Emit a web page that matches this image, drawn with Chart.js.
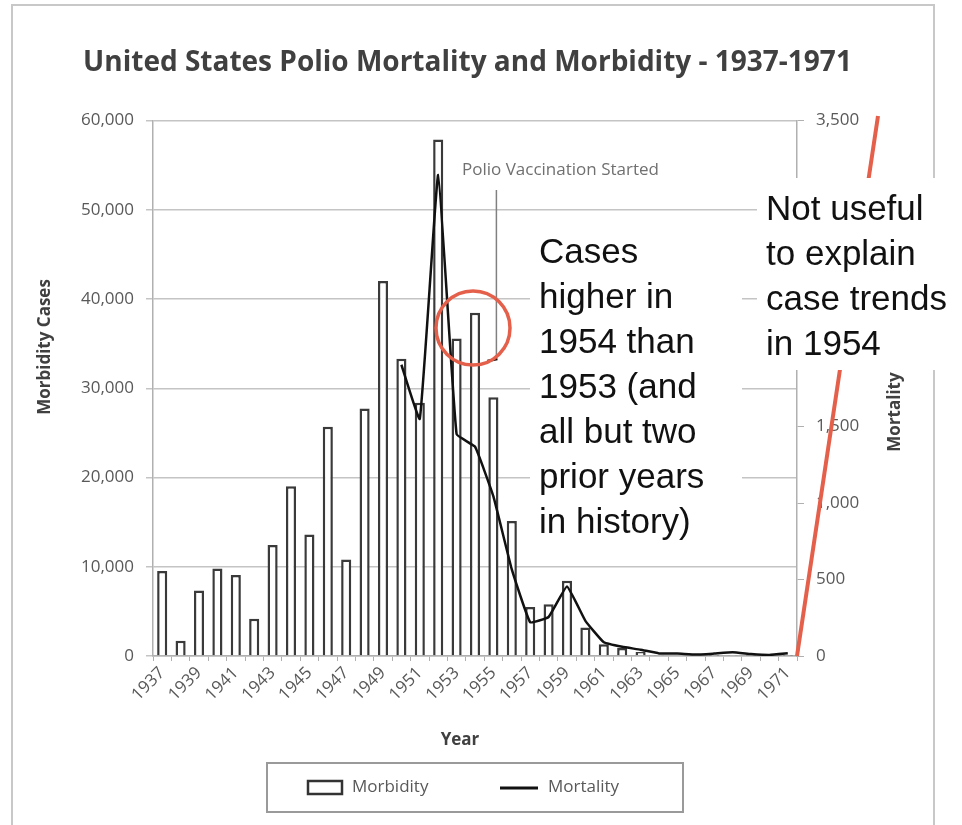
<!DOCTYPE html>
<html lang="en">
<head>
    <meta charset="UTF-8">
    <title>United States Polio Mortality and Morbidity</title>
    <script src="https://cdn.jsdelivr.net/npm/chart.js"></script>
    <style>
        html, body { margin: 0; padding: 0; background: #fff; }
        canvas { display: block; }
    </style>
</head>
<body>
<canvas id="polioChart" width="962" height="825"></canvas>
<script>
    // données
    const years = ["1937","1938","1939","1940","1941","1942","1943","1944","1945","1946",
                   "1947","1948","1949","1950","1951","1952","1953","1954","1955","1956",
                   "1957","1958","1959","1960","1961","1962","1963","1964","1965","1966",
                   "1967","1968","1969","1970","1971"];
    const morbidity = [9514, 1705, 7343, 9804, 9086, 4167, 12450, 19029, 13624, 25698,
                       10827, 27726, 42033, 33300, 28386, 57879, 35592, 38476, 28985, 15140,
                       5485, 5787, 8425, 3190, 1312, 910, 449, 122, 72, 113,
                       41, 53, 20, 33, 21];
    const mortality = [null, null, null, null, null, null, null, null, null, null,
                       null, null, null, 1904, 1551, 3145, 1450, 1368, 1043, 566,
                       221, 255, 454, 230, 90, 60, 41, 17, 16, 9,
                       16, 24, 13, 7, 18];
    const leftTicks = { min: 0, max: 60000, step: 10000 };
    const rightTicks = { min: 0, max: 3500, step: 500 };

    const noteCases = ["Cases", "higher in", "1954 than", "1953 (and", "all but two", "prior years", "in history)"];
    const noteMortality = ["Not useful", "to explain", "case trends", "in 1954"];

    const gray = '#595959';
    const red = '#e4604b';
    const excelFont = "'Open Sans', sans-serif";
    const noteFont = "'Liberation Sans', Arial, sans-serif";

    const fmt = v => Number(v).toLocaleString('en-US');

    // ✅ dessins en plus : cadre, titres d'axes, notes, légende
    const extras = {
        id: 'extras',
        afterDraw(chart) {
            const ctx = chart.ctx;
            const area = chart.chartArea;
            ctx.save();

            // cadre du graphique Excel
            ctx.strokeStyle = '#c8c8c8';
            ctx.lineWidth = 2;
            ctx.strokeRect(12, 5, 922, 830);

            // titres d'axes
            ctx.fillStyle = '#404040';
            ctx.font = "bold 17px " + excelFont;
            ctx.textAlign = 'center';
            ctx.textBaseline = 'middle';
            ctx.save();
            ctx.translate(45, 347);
            ctx.rotate(-Math.PI / 2);
            ctx.fillText("Morbidity Cases", 0, 0);
            ctx.restore();
            ctx.save();
            ctx.translate(895, 412);
            ctx.rotate(-Math.PI / 2);
            ctx.fillText("Mortality", 0, 0);
            ctx.restore();
            ctx.fillText("Year", 460, 740);

            // vaccination
            const xVac = chart.scales.x.getPixelForValue(years.indexOf("1955")) + 3;
            ctx.fillStyle = '#707070';
            ctx.font = "17px " + excelFont;
            ctx.textAlign = 'left';
            ctx.fillText("Polio Vaccination Started", 462, 170);
            ctx.strokeStyle = '#808080';
            ctx.lineWidth = 1.5;
            ctx.beginPath();
            ctx.moveTo(xVac, 190);
            ctx.lineTo(xVac, 360);
            ctx.stroke();
            ctx.strokeStyle = '#111';
            ctx.lineWidth = 2.5;
            ctx.beginPath();
            ctx.moveTo(xVac - 9, 361);
            ctx.lineTo(xVac + 1, 359);
            ctx.stroke();

            // trait rouge sur l'axe de droite
            ctx.strokeStyle = red;
            ctx.lineWidth = 4;
            ctx.beginPath();
            ctx.moveTo(area.right, area.bottom);
            ctx.lineTo(878, 116);
            ctx.stroke();

            // cercle rouge
            ctx.lineWidth = 3.5;
            ctx.beginPath();
            ctx.arc(473, 328, 37, 0, Math.PI * 2);
            ctx.stroke();

            // boîtes de texte
            ctx.fillStyle = '#fff';
            ctx.fillRect(530, 222, 212, 328);
            ctx.fillRect(757, 178, 205, 192);
            ctx.fillStyle = '#111';
            ctx.font = "35px " + noteFont;
            ctx.textBaseline = 'alphabetic';
            noteCases.forEach((t, i) => ctx.fillText(t, 539, 263 + i * 45));
            noteMortality.forEach((t, i) => ctx.fillText(t, 766, 220 + i * 45));

            // légende
            ctx.strokeStyle = '#9a9a9a';
            ctx.lineWidth = 2;
            ctx.strokeRect(267, 763, 416, 49);
            ctx.fillStyle = '#fff';
            ctx.strokeStyle = '#333';
            ctx.lineWidth = 2.5;
            ctx.fillRect(308, 781, 34, 13);
            ctx.strokeRect(308, 781, 34, 13);
            ctx.strokeStyle = '#111';
            ctx.lineWidth = 3;
            ctx.beginPath();
            ctx.moveTo(500, 788);
            ctx.lineTo(538, 788);
            ctx.stroke();
            ctx.fillStyle = gray;
            ctx.font = "17px " + excelFont;
            ctx.textBaseline = 'middle';
            ctx.fillText("Morbidity", 352, 787);
            ctx.fillText("Mortality", 548, 787);

            ctx.restore();
        }
    };

    const chart = new Chart(document.getElementById("polioChart"), {
        data: {
            labels: years,
            datasets: [
                {
                    type: 'line',
                    label: 'Mortality',
                    data: mortality,
                    yAxisID: 'y2',
                    borderColor: '#111',
                    borderWidth: 2.5,
                    pointRadius: 0,
                    tension: 0.1,
                    spanGaps: false,
                    order: 1
                },
                {
                    type: 'bar',
                    label: 'Morbidity',
                    data: morbidity,
                    yAxisID: 'y',
                    backgroundColor: '#ffffff',
                    borderColor: '#3a3a3a',
                    borderWidth: 2.5,
                    barPercentage: 0.55,
                    categoryPercentage: 1,
                    order: 2
                }
            ]
        },
        options: {
            responsive: false,
            animation: false,
            layout: { padding: { left: 30, right: 57, top: 38, bottom: 69 } },
            plugins: {
                legend: { display: false },
                tooltip: { enabled: false },
                title: {
                    display: true,
                    text: 'United States Polio Mortality and Morbidity - 1937-1971',
                    color: '#404040',
                    font: { family: excelFont, size: 28, weight: 'bold' },
                    padding: { top: 8, bottom: 41 }
                }
            },
            scales: {
                x: {
                    offset: true,
                    grid: { display: true, drawOnChartArea: false, offset: true, tickLength: 5, color: '#b0b0b0' },
                    border: { color: '#b0b0b0', width: 1.5 },
                    ticks: {
                        autoSkip: false,
                        minRotation: 45,
                        maxRotation: 45,
                        padding: 2,
                        color: gray,
                        font: { family: excelFont, size: 17 },
                        callback: (v, i) => i % 2 === 0 ? years[i] : ''
                    },
                    afterFit: s => { s.height = 100; }
                },
                y: {
                    position: 'left',
                    min: leftTicks.min,
                    max: leftTicks.max,
                    grid: { color: '#c4c4c4', lineWidth: 1.5, tickLength: 7 },
                    border: { color: '#b0b0b0', width: 1.5 },
                    ticks: {
                        stepSize: leftTicks.step,
                        padding: 12,
                        color: gray,
                        font: { family: excelFont, size: 17 },
                        callback: v => fmt(v)
                    },
                    afterFit: s => { s.width = 123; }
                },
                y2: {
                    position: 'right',
                    min: rightTicks.min,
                    max: rightTicks.max,
                    grid: { drawOnChartArea: false, color: '#b0b0b0', tickLength: 7 },
                    border: { color: '#b0b0b0', width: 1.5 },
                    ticks: {
                        stepSize: rightTicks.step,
                        padding: 12,
                        color: gray,
                        font: { family: excelFont, size: 17 },
                        callback: v => fmt(v)
                    },
                    afterFit: s => { s.width = 108; }
                }
            }
        },
        plugins: [extras]
    });
</script>
</body>
</html>
